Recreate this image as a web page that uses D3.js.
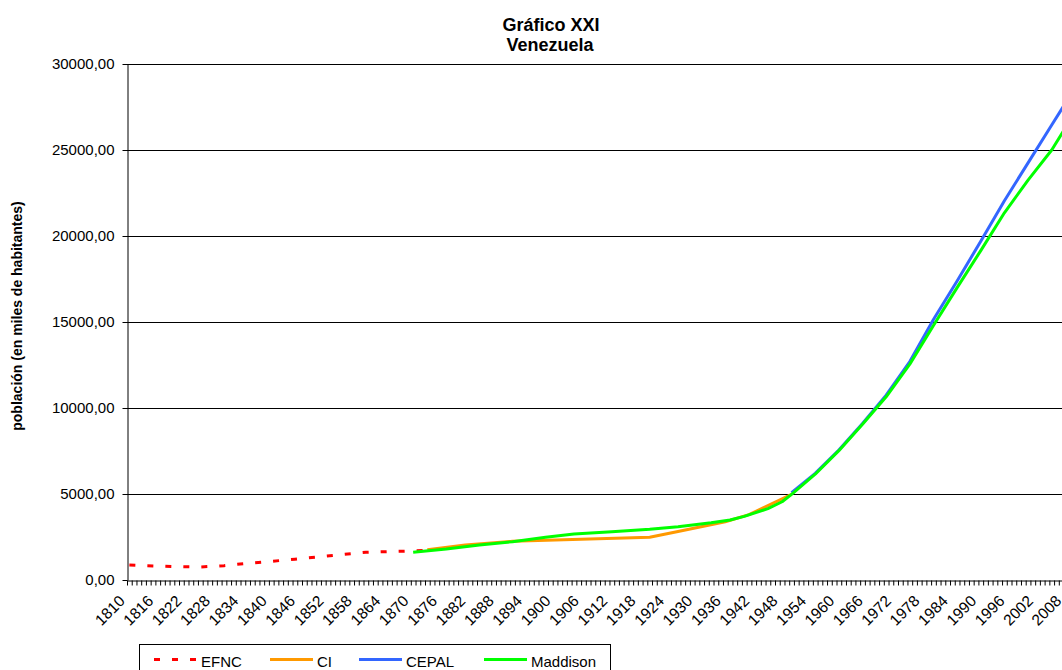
<!DOCTYPE html>
<html>
<head>
  <meta charset="utf-8">
  <script src="https://d3js.org/d3.v7.min.js"></script>
  <style>
    body {
      margin: 0;
      background: #fff;
      overflow: hidden;
    }
    svg {
      display: block;
      font-family: "Liberation Sans", Arial, Helvetica, sans-serif;
    }
  </style>
</head>
<body>
<div id="chart"></div>

<script>
    // Series: [year, population in thousands]
    var efnc = [
        [1810, 875], [1815, 820], [1820, 775], [1825, 755], [1830, 835],
        [1835, 970], [1840, 1085], [1845, 1210], [1850, 1340], [1855, 1480],
        [1860, 1610], [1865, 1655], [1870, 1690], [1873, 1720]
    ];

    var ci = [
        [1873, 1760], [1881, 2040], [1891, 2250], [1920, 2480],
        [1926, 2820], [1936, 3390], [1941, 3800], [1950, 4980]
    ];

    var cepal = [
        [1950, 5080], [1955, 6200], [1960, 7560], [1965, 9100], [1970, 10750],
        [1975, 12700], [1980, 15150], [1985, 17380], [1990, 19700],
        [1995, 22050], [2000, 24250], [2005, 26450], [2010, 28650]
    ];

    var maddison = [
        [1870, 1620], [1877, 1800], [1884, 2035], [1891, 2230], [1898, 2480],
        [1904, 2670], [1912, 2810], [1920, 2945], [1926, 3100], [1933, 3330],
        [1937, 3490], [1940, 3700], [1945, 4150], [1948, 4550], [1950, 4980],
        [1955, 6150], [1960, 7520], [1965, 9050], [1970, 10650], [1975, 12550],
        [1980, 14800], [1985, 17000], [1990, 19150], [1995, 21350],
        [2000, 23250], [2005, 25000], [2008, 26330]
    ];

    // axis categories and labels
    var firstYear = 1810, lastYear = 2010;
    var labelYears = d3.range(1810, 2011, 6);
    var yTicks = [0, 5000, 10000, 15000, 20000, 25000, 30000];

    var seriesNames = ["EFNC", "CI", "CEPAL", "Maddison"];
    var seriesData = [efnc, ci, cepal, maddison];
    var seriesColors = ["#ff0000", "#ff9900", "#3366ff", "#00ff00"];
</script>
<script>
    var W = 1062, H = 670;
    var plotLeft = 127, plotTop = 64, plotBottom = 580, step = 4.73;

    var svg = d3.select("#chart")
        .append("svg")
        .attr("width", W)
        .attr("height", H);

    // year scale: each category is one step wide, points sit in the middle
    var x = d3.scaleLinear()
        .domain([firstYear, lastYear + 1])
        .range([plotLeft, plotLeft + (lastYear + 1 - firstYear) * step]);

    var y = d3.scaleLinear()
        .domain([0, 30000])
        .range([plotBottom, plotTop]);

    // gridlines
    svg.append("g")
        .selectAll("line")
        .data(yTicks.filter(function (d) { return d > 0; }))
        .enter()
        .append("line")
        .attr("x1", plotLeft)
        .attr("x2", W)
        .attr("y1", function (d) { return Math.round(y(d)) + 0.5; })
        .attr("y2", function (d) { return Math.round(y(d)) + 0.5; })
        .attr("stroke", "#000")
        .attr("stroke-width", 1);

    // y axis
    var yAxis = d3.axisLeft(y)
        .tickValues(yTicks)
        .tickSize(5)
        .tickSizeOuter(0)
        .tickPadding(8)
        .tickFormat(function (d) { return d3.format(".2f")(d).replace(".", ","); });

    var gy = svg.append("g")
        .attr("transform", "translate(" + (plotLeft + 0.5) + ",0)")
        .call(yAxis);
    gy.select(".domain").attr("stroke", "#000");
    gy.selectAll(".tick line").attr("stroke", "#000");
    gy.selectAll("text")
        .style("font-size", "15px")
        .attr("fill", "#000");

    // x axis with a tick for every year
    var xAxis = d3.axisBottom(x)
        .tickValues(d3.range(firstYear, lastYear + 2))
        .tickSize(5)
        .tickSizeOuter(0)
        .tickFormat("");

    var gx = svg.append("g")
        .attr("transform", "translate(0," + (plotBottom + 0.5) + ")")
        .call(xAxis);
    gx.select(".domain").attr("stroke", "#000");
    gx.selectAll(".tick line").attr("stroke", "#000");

    svg.append("g")
        .selectAll("text")
        .data(labelYears)
        .enter()
        .append("text")
        .attr("text-anchor", "end")
        .attr("transform", function (d) {
            return "translate(" + (x(d + 0.5) - 3.5) + "," + (plotBottom + 22) + ") rotate(-45)";
        })
        .style("font-size", "15.5px")
        .text(function (d) { return d; });

    // lines
    var line = d3.line()
        .x(function (d) { return x(d[0] + 0.5); })
        .y(function (d) { return y(d[1]); });

    svg.append("g")
        .selectAll("path")
        .data(seriesData)
        .enter()
        .append("path")
        .attr("d", line)
        .attr("fill", "none")
        .attr("stroke", function (d, i) { return seriesColors[i]; })
        .attr("stroke-width", 3)
        .attr("stroke-linejoin", "round")
        .attr("stroke-dasharray", function (d, i) { return i === 0 ? "6,12" : null; });

    // titles
    svg.append("text")
        .attr("x", 551)
        .attr("y", 30.5)
        .attr("text-anchor", "middle")
        .style("font-size", "18px")
        .style("font-weight", "bold")
        .text("Gráfico XXI");

    svg.append("text")
        .attr("x", 550)
        .attr("y", 50.5)
        .attr("text-anchor", "middle")
        .style("font-size", "18px")
        .style("font-weight", "bold")
        .text("Venezuela");

    svg.append("text")
        .attr("transform", "translate(22,316) rotate(-90)")
        .attr("text-anchor", "middle")
        .style("font-size", "14px")
        .style("font-weight", "bold")
        .text("población (en miles de habitantes)");

    // legend
    var legend = svg.append("g");
    legend.append("rect")
        .attr("x", 139.5)
        .attr("y", 644.5)
        .attr("width", 471)
        .attr("height", 50)
        .attr("fill", "#fff")
        .attr("stroke", "#000");

    var legendX = [154, 270, 359, 484];
    var items = legend.selectAll(".item")
        .data(seriesNames)
        .enter()
        .append("g")
        .attr("class", "item")
        .attr("transform", function (d, i) { return "translate(" + legendX[i] + ",659.5)"; });

    items.append("line")
        .attr("x1", 0)
        .attr("x2", 43)
        .attr("stroke", function (d, i) { return seriesColors[i]; })
        .attr("stroke-width", 3)
        .attr("stroke-dasharray", function (d, i) { return i === 0 ? "6,12" : null; });

    items.append("text")
        .attr("x", 47)
        .attr("y", 7)
        .style("font-size", "15px")
        .text(function (d) { return d; });
</script>
</body>
</html>
